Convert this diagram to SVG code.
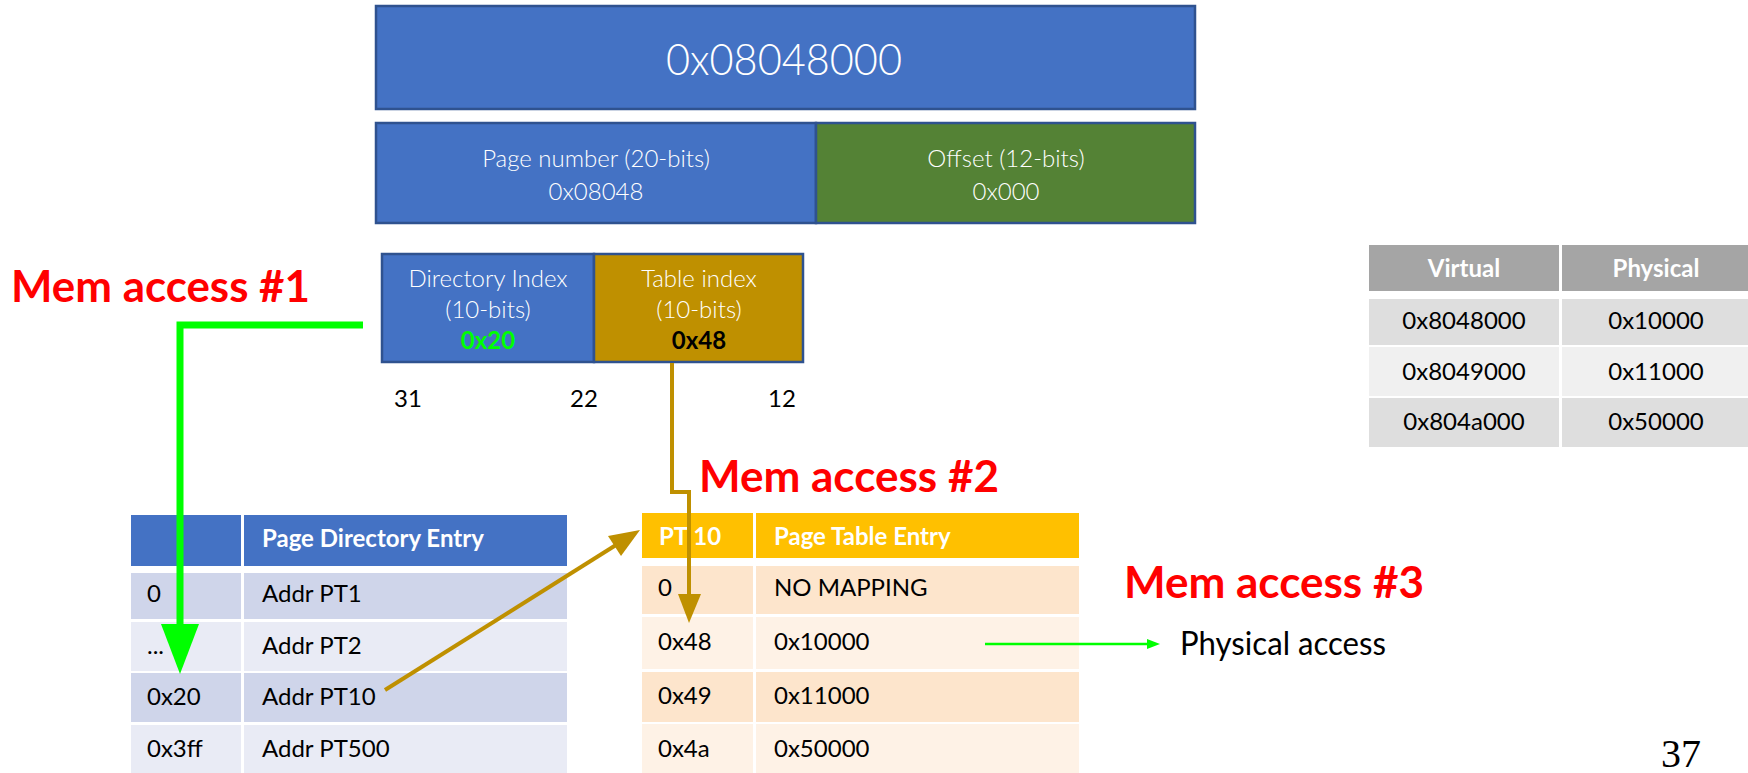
<svg xmlns="http://www.w3.org/2000/svg" width="1748" height="773" viewBox="0 0 1748 773">
<style>
.box{stroke:#2F528F;stroke-width:2.5}
.lt{font-family:Lato,"Liberation Sans",sans-serif;font-weight:300;fill:#fff}
.t{font-family:Lato,"Liberation Sans",sans-serif;font-size:24px;fill:#000}
.hd{font-family:Lato,"Liberation Sans",sans-serif;font-size:24px;font-weight:700;fill:#fff}
.mem{font-family:Lato,"Liberation Sans",sans-serif;font-size:44px;font-weight:700;fill:#FF0000}
.c{text-anchor:middle}
.gold{stroke:#BF9000;stroke-width:4;fill:none}
</style>
<rect width="1748" height="773" fill="#fff"/>

<g id="address">
<rect class="box" x="376" y="6" width="819" height="103" fill="#4472C4"/>
<text class="lt c" x="784" y="75" font-size="44" textLength="236" lengthAdjust="spacingAndGlyphs">0x08048000</text>
</g>

<g id="page-number">
<rect class="box" x="376" y="123" width="440" height="100" fill="#4472C4"/>
<text class="lt c" x="596" y="167" font-size="24">Page number (20-bits)</text>
<text class="lt c" x="596" y="200" font-size="24">0x08048</text>
</g>

<g id="offset">
<rect class="box" x="816" y="123" width="379" height="100" fill="#548235"/>
<text class="lt c" x="1006" y="167" font-size="24">Offset (12-bits)</text>
<text class="lt c" x="1006" y="200" font-size="24">0x000</text>
</g>

<g id="dir-index">
<rect class="box" x="382" y="254" width="212" height="108" fill="#4472C4"/>
<text class="lt c" x="488" y="287" font-size="24">Directory Index</text>
<text class="lt c" x="488" y="318" font-size="24">(10-bits)</text>
<text class="hd c" x="488" y="349" style="fill:#00FF00">0x20</text>
</g>

<g id="table-index">
<rect class="box" x="594" y="254" width="209" height="108" fill="#BF9000"/>
<text class="lt c" x="699" y="287" font-size="24">Table index</text>
<text class="lt c" x="699" y="318" font-size="24">(10-bits)</text>
<text class="hd c" x="699" y="349" style="fill:#000">0x48</text>
</g>

<g id="bits">
<text class="t c" x="408" y="407">31</text>
<text class="t c" x="584" y="407">22</text>
<text class="t c" x="782" y="407">12</text>
</g>

<g id="labels">
<text class="mem" x="11" y="302" textLength="299" lengthAdjust="spacingAndGlyphs">Mem access #1</text>
<text class="mem" x="699" y="492" textLength="300" lengthAdjust="spacingAndGlyphs">Mem access #2</text>
<text class="mem" x="1124" y="598" textLength="300" lengthAdjust="spacingAndGlyphs">Mem access #3</text>
</g>

<g id="page-directory">
<rect x="131" y="515" width="110" height="51" fill="#4472C4"/>
<rect x="244" y="515" width="323" height="51" fill="#4472C4"/>
<text class="hd" x="262" y="547">Page Directory Entry</text>
<rect x="131" y="573" width="110" height="46" fill="#CFD5EA"/>
<rect x="244" y="573" width="323" height="46" fill="#CFD5EA"/>
<rect x="131" y="622" width="110" height="49" fill="#E9EBF5"/>
<rect x="244" y="622" width="323" height="49" fill="#E9EBF5"/>
<rect x="131" y="673" width="110" height="49" fill="#CFD5EA"/>
<rect x="244" y="673" width="323" height="49" fill="#CFD5EA"/>
<rect x="131" y="725" width="110" height="48" fill="#E9EBF5"/>
<rect x="244" y="725" width="323" height="48" fill="#E9EBF5"/>
<text class="t" x="147" y="602">0</text>
<text class="t" x="262" y="602">Addr PT1</text>
<text class="t" x="147" y="654">...</text>
<text class="t" x="262" y="654">Addr PT2</text>
<text class="t" x="147" y="705">0x20</text>
<text class="t" x="262" y="705">Addr PT10</text>
<text class="t" x="147" y="757">0x3ff</text>
<text class="t" x="262" y="757">Addr PT500</text>
</g>

<g id="page-table">
<rect x="642" y="513" width="111" height="45" fill="#FFC000"/>
<rect x="756" y="513" width="323" height="45" fill="#FFC000"/>
<text class="hd" x="659" y="545">PT 10</text>
<text class="hd" x="774" y="545">Page Table Entry</text>
<rect x="642" y="566" width="111" height="48" fill="#FDE5CC"/>
<rect x="756" y="566" width="323" height="48" fill="#FDE5CC"/>
<rect x="642" y="617" width="111" height="52" fill="#FEF2E6"/>
<rect x="756" y="617" width="323" height="52" fill="#FEF2E6"/>
<rect x="642" y="672" width="111" height="50" fill="#FDE5CC"/>
<rect x="756" y="672" width="323" height="50" fill="#FDE5CC"/>
<rect x="642" y="724" width="111" height="49" fill="#FEF2E6"/>
<rect x="756" y="724" width="323" height="49" fill="#FEF2E6"/>
<text class="t" x="658" y="596">0</text>
<text class="t" x="774" y="596">NO MAPPING</text>
<text class="t" x="658" y="650">0x48</text>
<text class="t" x="774" y="650">0x10000</text>
<text class="t" x="658" y="704">0x49</text>
<text class="t" x="774" y="704">0x11000</text>
<text class="t" x="658" y="757">0x4a</text>
<text class="t" x="774" y="757">0x50000</text>
</g>

<g id="tlb">
<rect x="1369" y="245" width="190" height="46" fill="#A5A5A5"/>
<rect x="1562" y="245" width="186" height="46" fill="#A5A5A5"/>
<text class="hd c" x="1464" y="277">Virtual</text>
<text class="hd c" x="1656" y="277">Physical</text>
<rect x="1369" y="299" width="190" height="46" fill="#DEDEDE"/>
<rect x="1562" y="299" width="186" height="46" fill="#DEDEDE"/>
<rect x="1369" y="347" width="190" height="49" fill="#F0F0F0"/>
<rect x="1562" y="347" width="186" height="49" fill="#F0F0F0"/>
<rect x="1369" y="398" width="190" height="49" fill="#DEDEDE"/>
<rect x="1562" y="398" width="186" height="49" fill="#DEDEDE"/>
<text class="t c" x="1464" y="329">0x8048000</text>
<text class="t c" x="1656" y="329">0x10000</text>
<text class="t c" x="1464" y="380">0x8049000</text>
<text class="t c" x="1656" y="380">0x11000</text>
<text class="t c" x="1464" y="430">0x804a000</text>
<text class="t c" x="1656" y="430">0x50000</text>
</g>

<g id="physical-access">
<text class="t" x="1180" y="655" font-size="32" style="font-size:32px" textLength="206" lengthAdjust="spacingAndGlyphs">Physical access</text>
</g>

<g id="connectors">
<polyline points="363,325 180,325 180,626" fill="none" stroke="#00FF00" stroke-width="7" stroke-linejoin="miter"/>
<polygon points="161,624 199,624 180,674" fill="#00FF00"/>
<polyline class="gold" points="672,363 672,492 689,492 689,596"/>
<polygon points="678,594 701,594 689,623" fill="#BF9000"/>
<line class="gold" x1="385" y1="690" x2="616" y2="545"/>
<polygon points="640,530 621,556 608,536" fill="#BF9000"/>
<line x1="985" y1="644" x2="1149" y2="644" stroke="#00FF00" stroke-width="2.5"/>
<polygon points="1147,639 1147,649 1160,644" fill="#00FF00"/>
</g>

<g id="page-num">
<text x="1661" y="767" font-family="'Liberation Serif',serif" font-size="40" fill="#000">37</text>
</g>
</svg>
